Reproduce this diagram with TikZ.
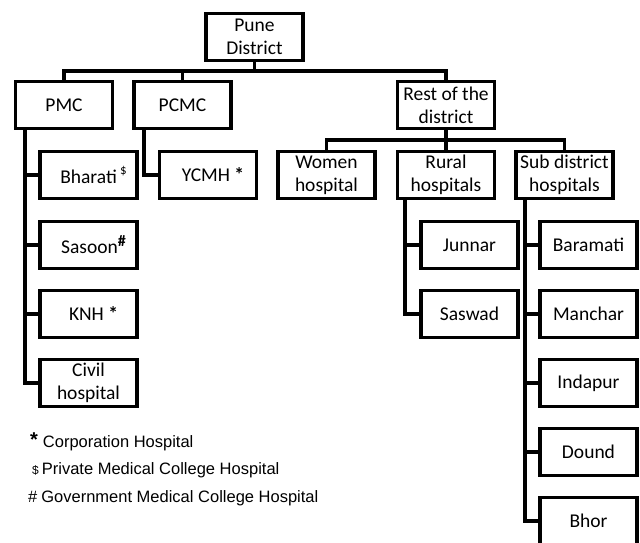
\documentclass[tikz,border=0pt]{standalone}
\usepackage{fontspec}
\setmainfont{Carlito}
\newfontfamily\legfont{Liberation Sans}
\begin{document}
\begin{tikzpicture}[x=1pt,y=-1pt,
  box/.style={draw=black,line width=3.2pt,minimum width=97pt,minimum height=47pt,
    inner sep=0pt,align=center,font=\fontsize{19.5}{23}\selectfont},
  conn/.style={draw=black,line width=3.2pt},
  legend/.style={anchor=base west,inner sep=0pt,font=\legfont\fontsize{16.5}{19}\selectfont}]
\useasboundingbox (0,0) rectangle (640,543);
\clip (0,0) rectangle (640,543);
% level 0
\node[box] (pune) at (254.5,37) {Pune\\District};
% level 1
\node[box] (pmc)  at (64,105)  {PMC};
\node[box] (pcmc) at (182.5,105) {PCMC};
\node[box] (rest) at (446,105) {Rest of the\\district};
% level 2 under rest
\node[box] (women) at (326.5,175) {Women\\hospital};
\node[box] (rural) at (446,175) {Rural\\hospitals};
\node[box] (sub)   at (564.5,175) {Sub district\\hospitals};
% PMC children
\node[box] (bharati) at (88.5,175) {\hspace*{10pt}Bharati\,\raisebox{0.45em}{\fontsize{13}{13}\selectfont\$}};
\node[box] (sasoon)  at (88.5,245) {\hspace*{10pt}Sasoon\raisebox{0.35em}{\fontsize{16}{16}\selectfont\bfseries\#}};
\node[box] (knh)     at (88.5,314) {\hspace*{10pt}KNH \textbf{*}};
\node[box] (civil)   at (88.5,383) {Civil\\hospital};
% PCMC child
\node[box] (ycmh) at (208,175) {\hspace*{10pt}YCMH \textbf{*}};
% rural children
\node[box] (junnar) at (469.5,245) {Junnar};
\node[box] (saswad) at (469.5,314) {Saswad};
% sub district children
\node[box] (baramati) at (588.5,245) {Baramati};
\node[box] (manchar)  at (588.5,314) {Manchar};
\node[box] (indapur)  at (588.5,383) {Indapur};
\node[box] (dound)    at (588.5,452) {Dound};
\node[box] (bhor)     at (588.5,521) {Bhor};
% buses
\coordinate (bus1) at (0,71);
\coordinate (bus2) at (0,140);
\coordinate (spA) at (25,0);
\coordinate (spB) at (144,0);
\coordinate (spC) at (405,0);
\coordinate (spD) at (525,0);
% top connectors
\draw[conn] (pune.south) -- (pune.south |- bus1);
\draw[conn] (pmc.north) -- (pmc.north |- bus1) -- (rest.north |- bus1) -- (rest.north);
\draw[conn] (pcmc.north) -- (pcmc.north |- bus1);
\draw[conn] (rest.south) -- (rest.south |- bus2);
\draw[conn] (women.north) -- (women.north |- bus2) -- (sub.north |- bus2) -- (sub.north);
\draw[conn] (rural.north) -- (rural.north |- bus2);
% PMC spine
\draw[conn] (pmc.south -| spA) |- (civil.west);
\foreach \n in {bharati,sasoon,knh} \draw[conn] (spA |- \n.west) -- (\n.west);
% PCMC
\draw[conn] (pcmc.south -| spB) |- (ycmh.west);
% rural
\draw[conn] (rural.south -| spC) |- (saswad.west);
\draw[conn] (spC |- junnar.west) -- (junnar.west);
% sub district
\draw[conn] (sub.south -| spD) |- (bhor.west);
\foreach \n in {baramati,manchar,indapur,dound} \draw[conn] (spD |- \n.west) -- (\n.west);
% legend
\node[legend] (leg1) at (30,447) {\raisebox{1pt}{\fontsize{20}{20}\selectfont\bfseries *}\hspace{5pt}Corporation Hospital};
\node[legend] (leg2) at (32,474) {{\fontsize{12}{12}\selectfont\$}\hspace{3pt}Private Medical College Hospital};
\node[legend] (leg3) at (28,502) {\#\hspace{4pt}Government Medical College Hospital};
\end{tikzpicture}
\end{document}
